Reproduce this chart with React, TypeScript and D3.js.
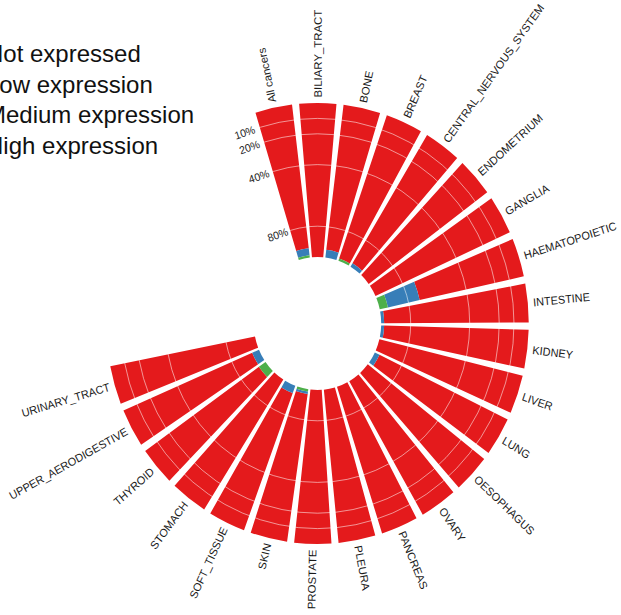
import React from "react";
import { scaleBand, scaleLinear, stack, arc } from "d3";

// tumour types, clockwise from the top
const categories = [
  "All cancers",
  "BILIARY_TRACT",
  "BONE",
  "BREAST",
  "CENTRAL_NERVOUS_SYSTEM",
  "ENDOMETRIUM",
  "GANGLIA",
  "HAEMATOPOIETIC",
  "INTESTINE",
  "KIDNEY",
  "LIVER",
  "LUNG",
  "OESOPHAGUS",
  "OVARY",
  "PANCREAS",
  "PLEURA",
  "PROSTATE",
  "SKIN",
  "SOFT_TISSUE",
  "STOMACH",
  "THYROID",
  "UPPER_AERODIGESTIVE",
  "URINARY_TRACT",
];

// percent of samples per expression level
const notExpressed = [94, 100, 95, 98.5, 97.5, 100, 100, 72.3, 98, 98, 100, 96.5, 100, 100, 100, 100, 100, 97, 95, 100, 94.5, 95, 100];
const lowExpression = [4.5, 0, 5, 0, 2.5, 0, 0, 22, 2, 2, 0, 3.5, 0, 0, 0, 0, 0, 1.5, 5, 0, 0, 5, 0];
const mediumExpression = [1.5, 0, 0, 1.5, 0, 0, 0, 5.7, 0, 0, 0, 0, 0, 0, 0, 0, 0, 1.5, 0, 0, 5.5, 0, 0];
const highExpression = [0, 0, 0, 0, 0, 0, 0, 0, 0, 0, 0, 0, 0, 0, 0, 0, 0, 0, 0, 0, 0, 0, 0];

const legendLabels = ["Not expressed", "Low expression", "Medium expression", "High expression"];
const gridTicks = [0.1, 0.2, 0.4, 0.8];

const keys = ["not", "low", "medium", "high"];
const colors = ["#E41A1C", "#377EB8", "#4DAF4A", "#984EA3"];

const width = 621;
const height = 615;
const cx = 317.5;
const cy = 323.5;
const squeeze = 0.958; // the plot is a little narrower than it is tall
const innerRadius = 66.5;
const outerRadius = 220.5;
const font = "'Liberation Sans', Arial, Helvetica, sans-serif";

const rad = (deg: number) => (deg * Math.PI) / 180;
const deg = (r: number) => (r * 180) / Math.PI;

export default function App() {
  const rows = categories.map((category, i) => ({
    category,
    not: notExpressed[i] / 100,
    low: lowExpression[i] / 100,
    medium: mediumExpression[i] / 100,
    high: highExpression[i] / 100,
  }));

  const stepDeg = 12.08;
  const startDeg = -12 - stepDeg / 2;
  const x = scaleBand<string>()
    .domain(categories)
    .range([rad(startDeg), rad(startDeg + stepDeg * categories.length)])
    .paddingInner(0.16)
    .paddingOuter(0.08);

  // 0% sits on the outer edge, 100% on the inner hole
  const y = scaleLinear().domain([0, 1]).range([outerRadius, innerRadius]);

  const series = stack<any>().keys(keys)(rows);

  const arcGen = arc<any>()
    .innerRadius((d) => y(d[1]))
    .outerRadius((d) => y(d[0]))
    .startAngle((d) => x(d.data.category)!)
    .endAngle((d) => x(d.data.category)! + x.bandwidth());

  const firstAngle = x.range()[0];

  return (
    <svg
      width={width}
      height={height}
      viewBox={`0 0 ${width} ${height}`}
      style={{ position: "absolute", left: 0, top: 0, background: "#fff" }}
      fontFamily={font}
    >
      <g transform={`translate(${cx},${cy}) scale(${squeeze},1)`}>
        {series.map((s, si) => (
          <g key={s.key} fill={colors[si]}>
            {s.map((d: any) => (
              <path key={d.data.category} d={arcGen(d) || ""} />
            ))}
          </g>
        ))}

        {/* grid circles over the bars */}
        <g fill="none" stroke="#fff" strokeOpacity={0.55} strokeWidth={1}>
          {gridTicks.map((t) => (
            <circle key={t} r={y(t)} />
          ))}
        </g>

        {/* radial scale labels */}
        <g fontSize={11} fill="#222" textAnchor="end">
          {gridTicks.map((t) => {
            const a = firstAngle - 0.01;
            const px = y(t) * Math.sin(a);
            const py = -y(t) * Math.cos(a);
            return (
              <text
                key={t}
                transform={`translate(${px},${py}) rotate(${deg(a)})`}
                dy="0.35em"
              >
                {`${Math.round(t * 100)}%`}
              </text>
            );
          })}
        </g>

        {/* category labels */}
        <g fontSize={11.4} fill="#1a1a1a">
          {categories.map((c) => {
            const a = x(c)! + x.bandwidth() / 2;
            const r = outerRadius + 5.5;
            const px = r * Math.sin(a);
            const py = -r * Math.cos(a);
            const left = deg(a) > 178;
            return (
              <text
                key={c}
                transform={`translate(${px},${py}) rotate(${left ? deg(a) + 90 : deg(a) - 90})`}
                textAnchor={left ? "end" : "start"}
                dy="0.35em"
              >
                {c}
              </text>
            );
          })}
        </g>
      </g>

      {/* legend, partly outside the page on the left */}
      <g fontSize={24} fill="#111">
        {legendLabels.map((l, i) => (
          <g key={l} transform={`translate(0,${62 + i * 30.6})`}>
            <rect x={-48} y={-19} width={22} height={22} fill={colors[i]} />
            <text x={-14}>{l}</text>
          </g>
        ))}
      </g>
    </svg>
  );
}
